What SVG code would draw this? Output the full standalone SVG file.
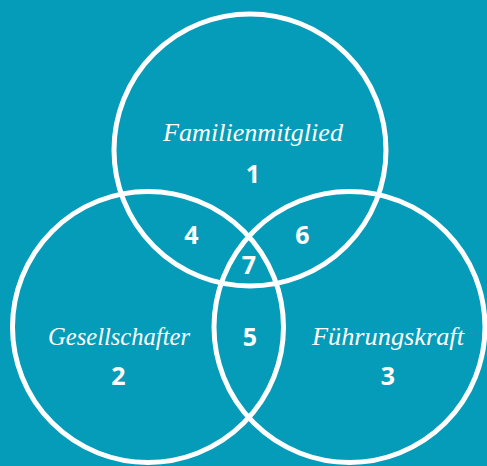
<svg xmlns="http://www.w3.org/2000/svg" width="487" height="466" viewBox="0 0 487 466">
<style>
.c{fill:none;stroke:#fff;stroke-width:5}
.l{font-family:"Liberation Serif","DejaVu Serif",serif;font-style:italic;font-size:25px;fill:#fff;text-anchor:middle}
.n{font-family:"Open Sans","Liberation Sans",sans-serif;font-weight:700;font-size:25px;fill:#fff;text-anchor:middle}
</style>
<rect width="487" height="466" fill="#049cb9"/>
<g id="connectors"/>
<g id="top"><circle class="c" cx="250" cy="150" r="136"/><text class="l" x="253" y="141" textLength="180" lengthAdjust="spacingAndGlyphs">Familienmitglied</text><text class="n" x="253" y="183">1</text></g>
<g id="left"><circle class="c" cx="148" cy="327" r="135.5"/><text class="l" x="119" y="345" textLength="142" lengthAdjust="spacingAndGlyphs">Gesellschafter</text><text class="n" x="118.5" y="385">2</text></g>
<g id="right"><circle class="c" cx="349.5" cy="327" r="135.5"/><text class="l" x="388" y="345" textLength="152" lengthAdjust="spacingAndGlyphs">Führungskraft</text><text class="n" x="388" y="385">3</text></g>
<g id="r4"><text class="n" x="191.5" y="244">4</text></g>
<g id="r6"><text class="n" x="302.5" y="244">6</text></g>
<g id="r5"><text class="n" x="250" y="346">5</text></g>
<g id="r7"><text class="n" x="249" y="274">7</text></g>
</svg>
